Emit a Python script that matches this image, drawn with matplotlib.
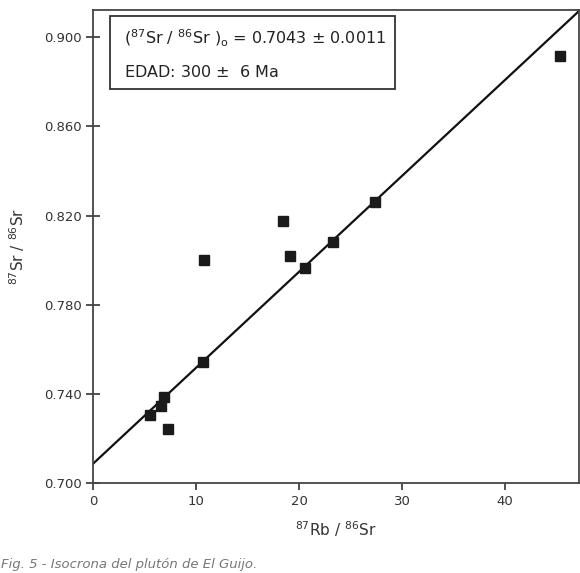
import matplotlib
matplotlib.use("Agg")
import matplotlib.pyplot as plt
import numpy as np

# Data
rb_sr = [5.5, 6.6, 6.9, 7.25, 10.7, 10.8, 18.4, 19.1, 20.6, 23.3, 27.4, 45.3]
sr_sr = [0.7306, 0.7346, 0.7383, 0.7241, 0.7541, 0.7998, 0.8174, 0.8016, 0.7965, 0.8083, 0.8260, 0.8916]

# Isochron line as drawn
line_intercept = 0.7085
line_slope = 0.00431

xticks = [0, 10, 20, 30, 40]
xticklabels = ["0", "10", "20", "30", "40"]
yticks = [0.700, 0.740, 0.780, 0.820, 0.860, 0.900]
yticklabels = ["0.700", "0.740", "0.780", "0.820", "0.860", "0.900"]

plt.rcParams['font.family'] = ['DejaVu Sans']

fig = plt.figure(figsize=(5.8, 5.73), dpi=100)
ax = fig.add_axes([93/580, 1-482.7/573, (579-93)/580, (482.7-10)/573])

xmax = 47.18
ymin, ymax = 0.700, 0.9123
ax.set_xlim(0, xmax)
ax.set_ylim(ymin, ymax)

xl = np.array([0, xmax])
ax.plot(xl, line_intercept + line_slope * xl, color='#111111', lw=1.6, zorder=2)
ax.plot(rb_sr, sr_sr, linestyle='none', marker='s', markersize=7,
        color='#1a1a1a', zorder=3)

ax.set_xticks(xticks)
ax.set_xticklabels(xticklabels)
ax.set_yticks(yticks)
ax.set_yticklabels(yticklabels)
ax.tick_params(axis='x', direction='out', length=5, width=1.2, labelsize=9.5,
               colors='#333333', pad=4)
ax.tick_params(axis='y', direction='inout', length=10, width=1.2, labelsize=9.5,
               colors='#333333', pad=3)
for s in ax.spines.values():
    s.set_color('#444444')
    s.set_linewidth(1.3)

ax.set_xlabel(r'$^{87}$Rb / $^{86}$Sr', fontsize=11, color='#333333', labelpad=8)
ax.set_ylabel(r'$^{87}$Sr / $^{86}$Sr', fontsize=11, color='#333333', labelpad=12)

# Text box
box = plt.Rectangle((110/580, 1-89/573), (395-110)/580, (89-16)/573,
                    transform=fig.transFigure, fill=True, facecolor='white',
                    edgecolor='#333333', lw=1.3, zorder=5)
fig.patches.append(box)
fig.text(124/580, 1-38/573, r'($^{87}$Sr / $^{86}$Sr )$_{\rm o}$ = 0.7043 $\pm$ 0.0011',
         fontsize=11.5, color='#222222', va='center', ha='left', zorder=6)
fig.text(124/580, 1-72/573, 'EDAD: 300 $\\pm$  6 Ma',
         fontsize=11.5, color='#222222', va='center', ha='left', zorder=6)

# Caption
fig.text(1/580, 2/573, 'Fig. 5 - Isocrona del plutón de El Guijo.',
         fontsize=9.5, style='italic', color='#777777', va='bottom', ha='left')

fig.savefig('out.png', dpi=100)
